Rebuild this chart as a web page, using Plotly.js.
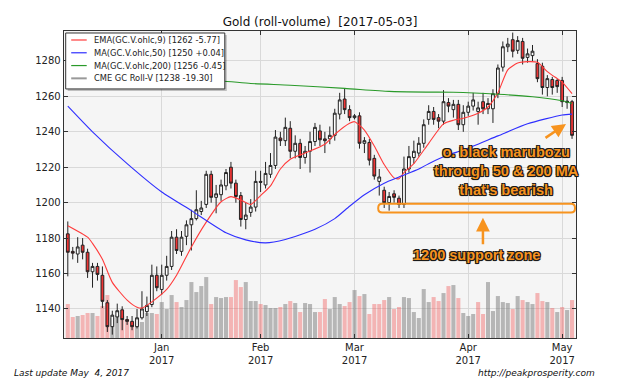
<!DOCTYPE html>
<html><head><meta charset="utf-8">
<script src="https://cdn.plot.ly/plotly-3.0.1.min.js"></script>
<style>html,body{margin:0;padding:0;background:#fff}#chart{width:640px;height:384px}</style>
</head><body><div id="chart"></div>
<script>
// Trading days (categories)
const dates = [
'2016-12-05','2016-12-06','2016-12-07','2016-12-08','2016-12-09','2016-12-12','2016-12-13','2016-12-14','2016-12-15','2016-12-16',
'2016-12-19','2016-12-20','2016-12-21','2016-12-22','2016-12-23','2016-12-27','2016-12-28','2016-12-29','2016-12-30',
'2017-01-03','2017-01-04','2017-01-05','2017-01-06','2017-01-09','2017-01-10','2017-01-11','2017-01-12','2017-01-13','2017-01-17',
'2017-01-18','2017-01-19','2017-01-20','2017-01-23','2017-01-24','2017-01-25','2017-01-26','2017-01-27','2017-01-30','2017-01-31',
'2017-02-01','2017-02-02','2017-02-03','2017-02-06','2017-02-07','2017-02-08','2017-02-09','2017-02-10','2017-02-13','2017-02-14',
'2017-02-15','2017-02-16','2017-02-17','2017-02-21','2017-02-22','2017-02-23','2017-02-24','2017-02-27','2017-02-28',
'2017-03-01','2017-03-02','2017-03-03','2017-03-06','2017-03-07','2017-03-08','2017-03-09','2017-03-10','2017-03-13','2017-03-14',
'2017-03-15','2017-03-16','2017-03-17','2017-03-20','2017-03-21','2017-03-22','2017-03-23','2017-03-24','2017-03-27','2017-03-28',
'2017-03-29','2017-03-30','2017-03-31',
'2017-04-03','2017-04-04','2017-04-05','2017-04-06','2017-04-07','2017-04-10','2017-04-11','2017-04-12','2017-04-13','2017-04-17',
'2017-04-18','2017-04-19','2017-04-20','2017-04-21','2017-04-24','2017-04-25','2017-04-26','2017-04-27','2017-04-28',
'2017-05-01','2017-05-02','2017-05-03'];

const open = [1182.4,1172.5,1171,1176,1172,1161,1164,1159,1143.5,1130,
1135.5,1139.5,1134,1133,1130,1135,1138.5,1142.5,1159,
1151,1159,1164,1180.5,1172.5,1181,1187.5,1191,1195,1199,
1216,1203,1204.5,1209.5,1220,1211,1204,1190.5,1194.5,1197.5,
1212,1210,1216,1221,1236.5,1235,1242,1229,1233.5,1225.5,
1229,1234.5,1240.5,1236,1236,1238,1250,1258.5,1252.5,
1248,1249,1233.5,1234,1225,1212,1207,1200,1205,1202.5,
1199,1219,1225.5,1228,1233.5,1247,1251.5,1248,1246,1256.5,
1252.5,1255.5,1244,
1251,1254.5,1251.5,1257,1253,1253,1261.5,1276.5,1288,1292,
1286,1291,1282,1283,1278.5,1277,1265,1269.5,1269,
1269,1256.5,1257];
const high = [1189.4,1175,1180.5,1180,1174,1166,1166,1164,1145,1139,
1143,1141.5,1136,1136,1140,1150,1147,1165,1164,
1165,1170,1184,1185,1184,1190,1196,1207,1201,1218,
1218,1210,1213,1219,1223,1213,1206,1200,1202,1218,
1218,1223,1228,1241,1240,1248,1246,1238,1236,1232,
1240,1245,1244,1240,1243,1253,1262,1264.5,1255,
1250,1251,1237,1236,1227,1219,1209,1206,1207,1204,
1226,1232,1235,1237,1247,1255,1254,1250,1263.5,1259,
1258,1258,1255,
1257,1262,1257,1262,1259,1264,1278,1291,1293,1296,
1294,1293,1287,1289,1281,1279,1272,1271,1270,
1271,1260,1258];
const low = [1158.4,1168,1166,1168,1157.5,1152,1156,1140.5,1127,1125.5,
1132,1128,1131,1128,1129,1134,1136,1141,1150,
1148,1156,1162,1171,1170,1176,1173,1190,1193,1197,
1200,1194,1201,1207,1208,1200,1186.5,1185,1192,1195,
1206,1208,1214,1219,1232,1232,1225,1225,1219,1222,
1217,1232,1232,1228,1233,1235,1247,1250,1246,
1247,1230.5,1228,1221,1213,1204,1197,1195.5,1200,1197,
1197,1217,1222,1226,1231,1244,1244,1242,1244,1251,
1248,1241,1240,
1249,1252,1244,1250,1250,1245,1259,1274,1285,1282,
1284,1278,1279,1280,1268,1261,1260,1261,1262,
1254,1253,1236];
const close = [1172,1171.5,1175,1172,1161,1164,1159.5,1144.3,1130,1136.5,
1139,1134,1133,1130,1135,1140,1142,1159,1152,
1159,1164,1180.5,1173,1180.5,1187.5,1191,1196,1197,1216,
1203,1205,1210,1217,1211,1203.5,1190.5,1193,1197.5,1212,
1211.5,1216.5,1221,1237,1235,1242.5,1229,1233.5,1225.5,1229,
1234.5,1242.5,1235.5,1235,1238,1250.5,1258,1252.5,1248,
1249,1233.5,1235,1224,1215,1214.5,1200,1203.5,1203,1199,
1219,1226,1229,1233.5,1244,1251.5,1247,1246,1257,1254.5,
1255.5,1244,1251,
1254.5,1258,1253.5,1253,1256,1261.5,1276,1288,1289.5,1285.5,
1291.5,1281.5,1284,1285.5,1270,1265,1270,1265,1265.5,
1257,1257.3,1238];
const volume = [34,21,22,23,25,25,22,32,43,20,
23,22,19,16,19,16,25,25,24,
36,29,43,36,31,38,56,46,52,61,
34,41,40,41,41,58,51,56,37,37,
34,33,30,30,31,34,37,35,26,35,
34,26,26,39,29,41,34,32,36,
48,42,44,24,34,34,38,41,29,31,
41,40,26,20,49,36,41,37,45,52,
53,40,25,
22,24,36,24,56,27,42,36,35,29,
42,38,36,34,45,37,36,30,26,
31,28,38];

// Moving averages
const emaDates = ['2016-12-05','2016-12-09','2016-12-12','2016-12-14','2016-12-16','2016-12-21','2016-12-23','2016-12-27','2016-12-29',
'2017-01-04','2017-01-06','2017-01-11','2017-01-17','2017-01-20','2017-01-24','2017-01-26','2017-01-30','2017-02-01','2017-02-03',
'2017-02-07','2017-02-09','2017-02-14','2017-02-21','2017-02-23','2017-02-28','2017-03-01','2017-03-03','2017-03-07','2017-03-09',
'2017-03-13','2017-03-14','2017-03-15','2017-03-17','2017-03-22','2017-03-27','2017-03-29','2017-03-31','2017-04-05','2017-04-07',
'2017-04-11','2017-04-13','2017-04-18','2017-04-20','2017-04-24','2017-04-26','2017-04-28','2017-05-01','2017-05-03'];
const emaValues = [1187,1180.5,1177,1168,1155,1145,1141,1140.5,1144,
1151,1159,1175,1189,1200.5,1203.4,1201.5,1199,1204,1209.5,
1219,1224.5,1228,1233,1238.5,1244.8,1245.7,1241,1232,1221.5,
1214,1213.5,1217,1222,1233.5,1244.5,1246.5,1247.6,1250.5,1254,
1262,1275,1278.8,1279.6,1279.2,1274,1270,1268,1261.5];

const ma50Dates = ['2016-12-05','2016-12-12','2016-12-21','2017-01-03','2017-01-11','2017-01-23','2017-01-27','2017-02-02','2017-02-08',
'2017-02-16','2017-02-23','2017-02-28','2017-03-03','2017-03-09','2017-03-14','2017-03-20','2017-03-22','2017-03-28','2017-03-31',
'2017-04-11','2017-04-20','2017-05-01','2017-05-03'];
const ma50Values = [1254.5,1240,1222,1206,1195.5,1183,1179,1177.3,1179.2,
1185,1191,1198,1204.5,1211,1214.5,1219,1222,1227,1229.7,
1237.7,1244.5,1249.5,1250];

const ma200Dates = ['2016-12-05','2016-12-27','2017-01-20','2017-01-30','2017-02-09','2017-02-27','2017-03-10','2017-03-22','2017-03-29',
'2017-04-11','2017-04-21','2017-05-01','2017-05-03'];
const ma200Values = [1272,1270.5,1268.7,1267.3,1266.3,1264.5,1262.8,1262.4,1262.3,1261.2,1259.8,1257.5,1256];

const monthTickDates = ['2017-01-03','2017-02-01','2017-03-01','2017-04-03','2017-05-01'];
const monthTickLabels = ['Jan<br>2017','Feb<br>2017','Mar<br>2017','Apr<br>2017','May<br>2017'];

const seriesNames = ['EMA(GC.V.ohlc,9) [1262 -5.77]','MA(GC.V.ohlc,50) [1250 +0.04]','MA(GC.V.ohlc,200) [1256 -0.45]','CME GC Roll-V [1238 -19.30]'];
const seriesColors = ['#ff3b3b','#2f2fff','#2a9a2a','#999999'];

const idx = d => dates.indexOf(d);
const xs = dates.map((d,i)=>i);
const volColors = close.map((c,i)=> (i===0 || c < close[i-1]) ? 'rgba(240,90,90,0.42)' : 'rgba(120,120,120,0.5)');

// pixel -> paper helpers for decorations (plot area 64.3..576 x 31..338.3)
const PX0=64.3, PW=511.7, PY1=338.3, PH=307.3;
const px = x => (x-PX0)/PW;
const py = y => (PY1-y)/PH;

const ORANGE = '#F7931E';
const OUT = '#1a1a1a';
const outline = '-1px -1px 0 '+OUT+', 1px -1px 0 '+OUT+', -1px 1px 0 '+OUT+', 1px 1px 0 '+OUT+', 0 1px 1px '+OUT+', 1px 0 1px '+OUT;

const traces = [
  {type:'bar', x:xs, y:volume, xaxis:'x', yaxis:'y', marker:{color:volColors, line:{width:0}}, showlegend:false, hoverinfo:'skip'},
  {type:'candlestick', name:seriesNames[3], x:xs, open:open, high:high, low:low, close:close, xaxis:'x', yaxis:'y2', showlegend:false,
   whiskerwidth:0,
   increasing:{line:{color:'#222', width:1}, fillcolor:'#ffffff'},
   decreasing:{line:{color:'#222', width:1}, fillcolor:'#ee3535'}, hoverinfo:'skip'},
  {type:'scatter', mode:'lines', name:seriesNames[0], x:emaDates.map(idx), y:emaValues, yaxis:'y2', showlegend:false,
   line:{color:seriesColors[0], width:1.1, shape:'spline', smoothing:0.6}},
  {type:'scatter', mode:'lines', name:seriesNames[1], x:ma50Dates.map(idx), y:ma50Values, yaxis:'y2', showlegend:false,
   line:{color:seriesColors[1], width:1.1, shape:'spline', smoothing:0.6}},
  {type:'scatter', mode:'lines', name:seriesNames[2], x:ma200Dates.map(idx), y:ma200Values, yaxis:'y2', showlegend:false,
   line:{color:seriesColors[2], width:1.1, shape:'spline', smoothing:0.6}}
];

// rounded rectangle (support zone marker)
const rx0=px(378.3), rx1=px(575), ry0=py(212.7), ry1=py(204), rrx=4/PW, rry=4.3/PH;
const rrPath = `M ${rx0+rrx},${ry0} L ${rx1-rrx},${ry0} Q ${rx1},${ry0} ${rx1},${ry0+rry} L ${rx1},${ry1-rry} Q ${rx1},${ry1} ${rx1-rrx},${ry1} L ${rx0+rrx},${ry1} Q ${rx0},${ry1} ${rx0},${ry1-rry} L ${rx0},${ry0+rry} Q ${rx0},${ry0} ${rx0+rrx},${ry0} Z`;

// legend box drawn as decorations
const legRows = [40, 52.8, 65.6, 78.4];
const shapes = [
  {type:'rect', xref:'paper', yref:'paper', x0:px(68), x1:px(227), y0:py(91), y1:py(35), fillcolor:'rgba(0,0,0,0.22)', line:{width:0}},
  {type:'rect', xref:'paper', yref:'paper', x0:px(66), x1:px(225), y0:py(89), y1:py(33), fillcolor:'#ffffff', line:{color:'#333', width:1}},
  {type:'path', xref:'paper', yref:'paper', path:rrPath, line:{color:ORANGE, width:2}, fillcolor:'rgba(0,0,0,0)'}
];
const annotations = [];
seriesNames.forEach((n,i)=>{
  shapes.push({type:'line', xref:'paper', yref:'paper', x0:px(71.5), x1:px(87), y0:py(legRows[i]), y1:py(legRows[i]),
               line:{color:seriesColors[i], width: i===3 ? 2 : 1.2}});
  annotations.push({xref:'paper', yref:'paper', x:px(92.5), y:py(legRows[i]), xanchor:'left', yanchor:'middle', showarrow:false,
               text:n, font:{family:'DejaVu Sans', size:8.3, color:'#222'}});
});

annotations.push(
  {xref:'paper', yref:'paper', x:px(507), y:py(171), xanchor:'center', yanchor:'middle', showarrow:false, align:'center',
   text:"o. black marubozu<br>through 50 &amp; 200 MA<br>that's bearish",
   font:{family:'Liberation Sans', size:14.5, weight:700, color:ORANGE, shadow:outline}},
  {xref:'paper', yref:'paper', x:px(476.5), y:py(255), xanchor:'center', yanchor:'middle', showarrow:false,
   text:'1200 support zone', font:{family:'Liberation Sans', size:14.5, weight:700, color:ORANGE, shadow:outline}},
  {xref:'paper', yref:'paper', x:px(566), y:py(124), text:'', showarrow:true, ax:-22, ay:15, arrowhead:2, arrowsize:1.1,
   arrowwidth:2.5, arrowcolor:ORANGE},
  {xref:'paper', yref:'paper', x:px(483), y:py(218), text:'', showarrow:true, ax:0, ay:28, arrowhead:2, arrowsize:1.1,
   arrowwidth:2.5, arrowcolor:ORANGE},
  {xref:'paper', yref:'paper', x:px(12), y:py(373), xanchor:'left', yanchor:'middle', showarrow:false,
   text:'Last update May\u00a0 4, 2017', font:{family:'DejaVu Sans', size:9, style:'italic', color:'#111'}},
  {xref:'paper', yref:'paper', x:px(597), y:py(373), xanchor:'right', yanchor:'middle', showarrow:false,
   text:'http://peakprosperity.com', font:{family:'DejaVu Sans', size:9, style:'italic', color:'#111'}}
);

const axisFont = {family:'DejaVu Sans', size:10, color:'#222'};
const layout = {
  width:640, height:384,
  margin:{l:64, r:64, t:31, b:46, pad:0},
  paper_bgcolor:'#ffffff', plot_bgcolor:'#f5f5f5',
  title:{text:'Gold (roll-volume)  [2017-05-03]', font:{family:'DejaVu Sans', size:12, color:'#111'},
         x:0.5, xanchor:'center', xref:'paper', y:0.943, yanchor:'middle', yref:'container'},
  showlegend:false,
  bargap:0.18, boxgap:0.2,
  xaxis:{range:[-0.77,102.8], tickvals:monthTickDates.map(idx), ticktext:monthTickLabels, ticks:'inside', ticklen:4,
         tickcolor:'#333', showgrid:true, gridcolor:'#d9d9d9', gridwidth:1, showline:true, linecolor:'#333', linewidth:1.3,
         mirror:'ticks', zeroline:false, rangeslider:{visible:false}, tickfont:axisFont, fixedrange:true},
  yaxis:{range:[0,307.3], visible:false, fixedrange:true},
  yaxis2:{overlaying:'y', side:'left', range:[1123.6,1296.9], tick0:1140, dtick:20, ticks:'inside', ticklen:4, tickcolor:'#333',
          showgrid:true, gridcolor:'#d9d9d9', gridwidth:1, showline:true, linecolor:'#333', linewidth:1.3, mirror:'ticks',
          zeroline:false, tickfont:axisFont, fixedrange:true},
  shapes:shapes,
  annotations:annotations
};

Plotly.newPlot('chart', traces, layout, {staticPlot:true, displayModeBar:false});
</script>
</body></html>
